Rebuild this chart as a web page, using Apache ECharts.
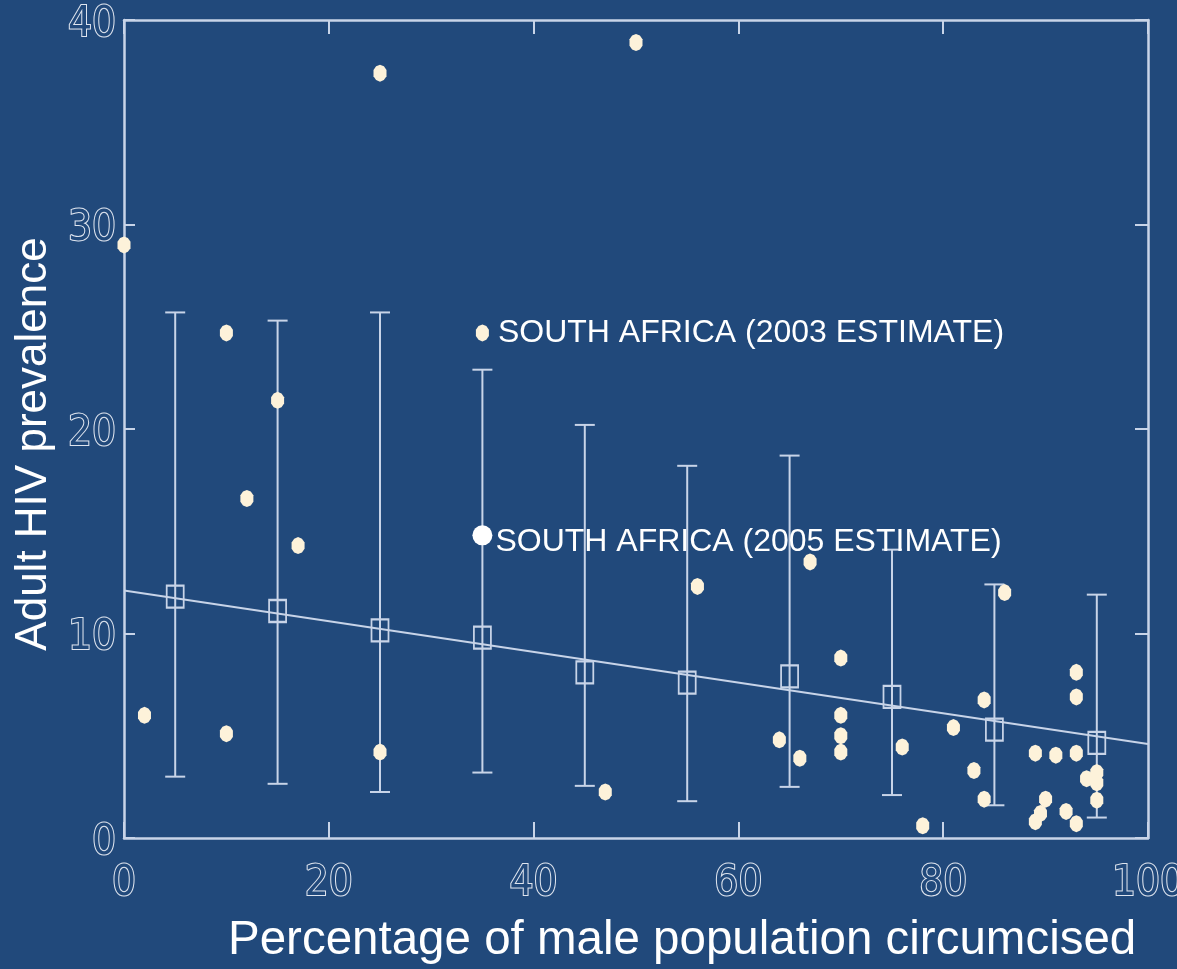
<!DOCTYPE html>
<html>
<head>
<meta charset="utf-8">
<title>Adult HIV prevalence vs male circumcision</title>
<script src="https://cdn.jsdelivr.net/npm/echarts@6/dist/echarts.min.js"></script>
<style>
  html, body { margin: 0; padding: 0; background: #21497b; }
  #chart { width: 1177px; height: 969px; }
</style>
</head>
<body>
<div id="chart"></div>
<script>
// Country observations: % of men circumcised vs adult HIV prevalence (%)
const countryX = [0, 2, 10, 10, 12, 15, 17, 25, 25, 47, 50, 56, 64, 66, 67, 70, 70, 70, 70,
  76, 78, 81, 83, 84, 84, 86, 89, 91, 93, 93, 93, 94, 95, 95, 95, 90, 89.5, 89, 92, 93];
const countryY = [29.0, 6.0, 24.7, 5.1, 16.6, 21.4, 14.3, 37.4, 4.2, 2.25, 38.9, 12.3, 4.8, 3.9, 13.5, 8.8, 6.0, 5.0, 4.2,
  4.45, 0.6, 5.4, 3.3, 6.75, 1.9, 12.0, 4.15, 4.05, 4.15, 8.1, 6.9, 2.9, 3.2, 2.7, 1.85, 1.9, 1.2, 0.8, 1.3, 0.7];

// South Africa, two estimates
const sa2003 = [35, 24.7];
const sa2005 = [35, 14.8];
const sa2003Label = 'SOUTH AFRICA (2003 ESTIMATE)';
const sa2005Label = 'SOUTH AFRICA (2005 ESTIMATE)';

// Group means by circumcision decile, with their ranges
const binCentres = [5, 15, 25, 35, 45, 55, 65, 75, 85, 95];
const binMeans   = [11.8, 11.1, 10.15, 9.8, 8.1, 7.6, 7.9, 6.9, 5.3, 4.65];
const binLow     = [3.0, 2.65, 2.25, 3.2, 2.55, 1.8, 2.5, 2.1, 1.6, 1.0];
const binHigh    = [25.7, 25.3, 25.7, 22.9, 20.2, 18.2, 18.7, 14.1, 12.4, 11.9];

// Fitted regression line endpoints
const fitX = [0, 100];
const fitY = [12.1, 4.6];

// Axis ticks
const xTicks = [0, 20, 40, 60, 80, 100];
const yTicks = [0, 10, 20, 30, 40];

const bg = '#21497b';
const lineCol = '#c8d4e8';
const dotCol = '#fdf2da';
const tickFont = '"Liberation Sans Narrow", "DejaVu Sans Condensed", sans-serif';
const textFont = '"Liberation Sans", Arial, sans-serif';

const chart = echarts.init(document.getElementById('chart'), null, { renderer: 'canvas' });

const dotPath = 'path://M5,0 L8,1.5 L10,5 L10,11 L8,14.5 L5,16 L2,14.5 L0,11 L0,5 L2,1.5 Z';

// Hollow, thin-stroked digits for the tick numbers
const digitStyle = {
  fontFamily: tickFont,
  fontSize: 42,
  color: bg,
  textBorderColor: '#dfe5ef',
  textBorderWidth: 2
};

const frameAxis = {
  type: 'value',
  axisLine: { show: true, onZero: false, lineStyle: { color: lineCol, width: 2.5 } },
  splitLine: { show: false }
};

chart.setOption({
  backgroundColor: bg,
  animation: false,
  grid: { left: 124, top: 20, right: 29, bottom: 131, outerBoundsMode: 'none', containLabel: false },
  xAxis: [
    Object.assign({}, frameAxis, {
      position: 'bottom', min: xTicks[0], max: xTicks[xTicks.length - 1], interval: 20,
      axisTick: { show: true, inside: true, length: 16, lineStyle: { color: lineCol, width: 2 } },
      axisLabel: Object.assign({ margin: 25, showMinLabel: true, showMaxLabel: true }, digitStyle)
    }),
    Object.assign({}, frameAxis, {
      position: 'top', min: xTicks[0], max: xTicks[xTicks.length - 1], interval: 20,
      axisTick: { show: true, inside: true, length: 14, lineStyle: { color: lineCol, width: 2 } },
      axisLabel: { show: false }
    })
  ],
  yAxis: [
    Object.assign({}, frameAxis, {
      position: 'left', min: yTicks[0], max: yTicks[yTicks.length - 1], interval: 10,
      axisTick: { show: true, inside: true, length: 11, lineStyle: { color: lineCol, width: 2 } },
      axisLabel: {
        margin: 8, showMinLabel: true, showMaxLabel: true,
        formatter: '{d|{value}}',
        rich: { d: Object.assign({ padding: [10, 0, 0, 0] }, digitStyle) }
      }
    }),
    Object.assign({}, frameAxis, {
      position: 'right', min: yTicks[0], max: yTicks[yTicks.length - 1], interval: 10,
      axisTick: { show: true, inside: true, length: 13, lineStyle: { color: lineCol, width: 2 } },
      axisLabel: { show: false }
    })
  ],
  graphic: [
    {
      type: 'text', left: 228, top: 917,
      style: { text: 'Percentage of male population circumcised', fill: '#ffffff', font: '47.5px ' + textFont }
    },
    {
      type: 'text', x: 34, y: 444, rotation: Math.PI / 2,
      style: { text: 'Adult HIV prevalence', fill: '#ffffff', font: '44px ' + textFont, align: 'center', verticalAlign: 'middle' }
    }
  ],
  series: [
    {
      name: 'Fit',
      type: 'line',
      data: fitX.map((x, i) => [x, fitY[i]]),
      showSymbol: false,
      lineStyle: { color: lineCol, width: 2 },
      z: 2
    },
    {
      name: 'Range',
      type: 'custom',
      data: binCentres.map((x, i) => [x, binLow[i], binHigh[i]]),
      renderItem: function (params, api) {
        const x = api.value(0);
        const lo = api.coord([x, api.value(1)]);
        const hi = api.coord([x, api.value(2)]);
        const half = 10;
        const st = { stroke: lineCol, lineWidth: 2 };
        return {
          type: 'group',
          children: [
            { type: 'line', shape: { x1: lo[0], y1: lo[1], x2: hi[0], y2: hi[1] }, style: st },
            { type: 'line', shape: { x1: lo[0] - half, y1: lo[1], x2: lo[0] + half, y2: lo[1] }, style: st },
            { type: 'line', shape: { x1: hi[0] - half, y1: hi[1], x2: hi[0] + half, y2: hi[1] }, style: st }
          ]
        };
      },
      z: 3
    },
    {
      name: 'Mean',
      type: 'scatter',
      data: binCentres.map((x, i) => [x, binMeans[i]]),
      symbol: 'rect',
      symbolSize: [17, 22],
      itemStyle: { color: 'rgba(0,0,0,0)', borderColor: lineCol, borderWidth: 2, opacity: 1 },
      z: 4
    },
    {
      name: 'Countries',
      type: 'scatter',
      data: countryX.map((x, i) => [x, countryY[i]]),
      symbol: dotPath,
      symbolSize: [13, 17],
      itemStyle: { color: dotCol, opacity: 1 },
      z: 5
    },
    {
      name: 'South Africa 2003',
      type: 'scatter',
      data: [sa2003],
      symbol: dotPath,
      symbolSize: [13, 17],
      itemStyle: { color: dotCol, opacity: 1 },
      label: {
        show: true, position: 'right', distance: 9,
        formatter: sa2003Label,
        color: '#ffffff', fontFamily: textFont, fontSize: 32
      },
      z: 5
    },
    {
      name: 'South Africa 2005',
      type: 'scatter',
      data: [sa2005],
      symbol: 'circle',
      symbolSize: 20,
      itemStyle: { color: '#ffffff', opacity: 1 },
      label: {
        show: true, position: 'right', distance: 3, offset: [0, 7],
        formatter: sa2005Label,
        color: '#ffffff', fontFamily: textFont, fontSize: 32
      },
      z: 6
    }
  ]
});
</script>
</body>
</html>
